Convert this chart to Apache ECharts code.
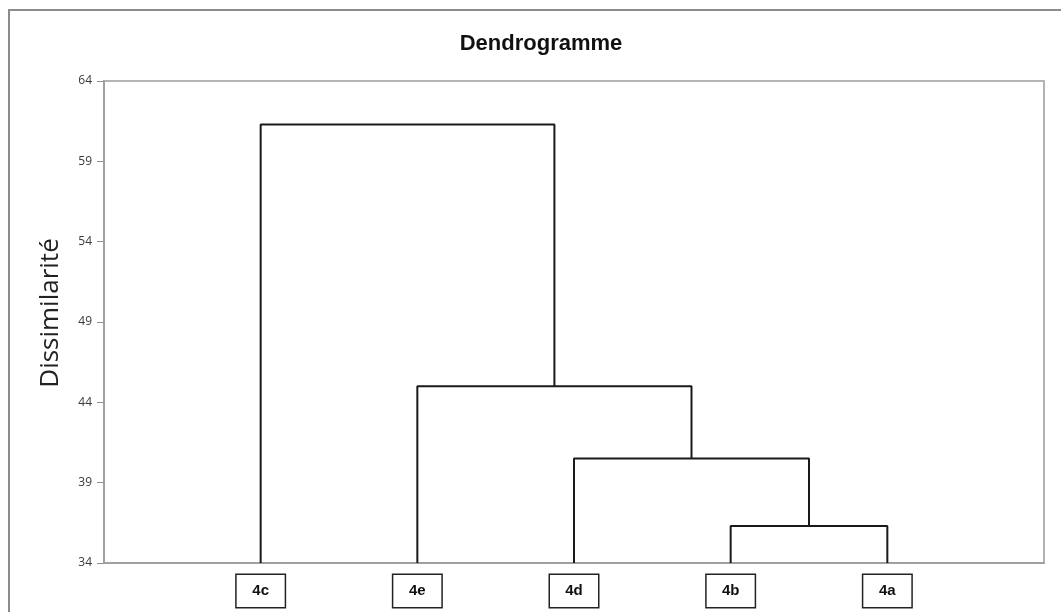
<!DOCTYPE html>
<html>
<head>
<meta charset="utf-8">
<script src="https://cdn.jsdelivr.net/npm/echarts@6/dist/echarts.min.js"></script>
<style>html,body{margin:0;padding:0;background:#fff;}#c{width:1061px;height:612px;}</style>
</head>
<body>
<div id="c"></div>
<script>
// Leaves in display order
const leaves = ['4c', '4e', '4d', '4b', '4a'];
// Merges: [left node, right node, dissimilarity]; nodes 0..4 = leaves, 5.. = clusters in order
const mergeLeft = [3, 2, 1, 0];
const mergeRight = [4, 5, 6, 7];
const mergeHeight = [36.3, 40.5, 45.0, 61.3];
// Y axis
const yMin = 34, yMax = 64, yStep = 5;
const yTitle = 'Dissimilarité';
const chartTitle = 'Dendrogramme';

const nodeX = leaves.map((_, i) => i);
const nodeY = leaves.map(() => yMin);
const series = [];
for (let k = 0; k < mergeHeight.length; k++) {
  const l = mergeLeft[k], r = mergeRight[k], h = mergeHeight[k];
  series.push({
    type: 'line', symbol: 'none', silent: true, animation: false, clip: false,
    lineStyle: { color: '#1a1a1a', width: 2 },
    data: [[nodeX[l], nodeY[l]], [nodeX[l], h], [nodeX[r], h], [nodeX[r], nodeY[r]]]
  });
  nodeX.push((nodeX[l] + nodeX[r]) / 2);
  nodeY.push(h);
}

const chart = echarts.init(document.getElementById('c'), null, { renderer: 'canvas' });
chart.setOption({
  animation: false,
  backgroundColor: '#fff',
  title: {
    text: chartTitle, left: 536, top: 28, textAlign: 'center',
    textStyle: { fontFamily: 'Liberation Sans', fontWeight: 'bold', fontSize: 22, color: '#111' }
  },
  graphic: [{
    type: 'rect', silent: true, z: -10,
    shape: { x: 9, y: 10, width: 1200, height: 800 },
    style: { fill: 'none', stroke: '#8c8c8c', lineWidth: 2 }
  }],
  grid: { left: 104, right: 17, top: 81, bottom: 49, show: true, borderColor: '#b4b4b4', borderWidth: 2, backgroundColor: '#fff' },
  xAxis: {
    type: 'value', min: -1, max: 5, interval: 1,
    axisLine: { show: true, onZero: false, lineStyle: { color: '#a0a0a0', width: 2 } },
    axisTick: { show: false },
    splitLine: { show: false },
    axisLabel: {
      margin: 12,
      formatter: v => (Number.isInteger(v) && v >= 0 && v < leaves.length) ? '{b|' + leaves[v] + '}' : '',
      rich: {
        b: {
          fontFamily: 'Liberation Sans', fontWeight: 'bold', fontSize: 15, color: '#111',
          width: 48, height: 32, lineHeight: 32, align: 'center',
          borderColor: '#222', borderWidth: 1.5, backgroundColor: '#fff'
        }
      }
    }
  },
  yAxis: {
    type: 'value', min: yMin, max: yMax, interval: yStep,
    name: yTitle, nameLocation: 'middle', nameGap: 40, nameRotate: 90,
    nameTextStyle: { fontFamily: 'Open Sans', fontSize: 26, color: '#222', padding: [0, 0, 0, 18] },
    axisLine: { show: true, onZero: false, lineStyle: { color: '#a0a0a0', width: 2 } },
    axisTick: { show: true, inside: false, length: 7, lineStyle: { color: '#909090', width: 1 } },
    splitLine: { show: false },
    axisLabel: { fontFamily: 'Open Sans', fontSize: 12, color: '#3a3a3a', margin: 12 }
  },
  series: series
});
</script>
</body>
</html>
